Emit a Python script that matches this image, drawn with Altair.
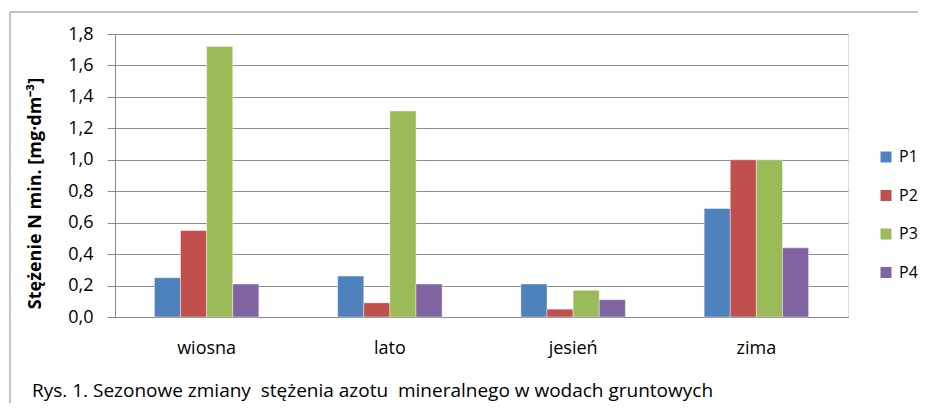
import altair as alt
import pandas as pd

seasons = ["wiosna", "lato", "jesień", "zima"]
series = ["P1", "P2", "P3", "P4"]
p1 = [0.25, 0.26, 0.21, 0.69]
p2 = [0.55, 0.09, 0.05, 1.00]
p3 = [1.72, 1.31, 0.17, 1.00]
p4 = [0.21, 0.21, 0.11, 0.44]
colors = ["#4F81BD", "#C0504D", "#9BBB59", "#8064A2"]
y_ticks = [0.0, 0.2, 0.4, 0.6, 0.8, 1.0, 1.2, 1.4, 1.6, 1.8]
caption = "Rys. 1. Sezonowe zmiany \u00a0stężenia azotu \u00a0mineralnego w wodach gruntowych"
y_title = "Stężenie N min. [mg·dm⁻³]"

rows = []
for s_name, vals in zip(series, [p1, p2, p3, p4]):
    for season, v in zip(seasons, vals):
        rows.append({"season": season, "series": s_name, "value": v})
df = pd.DataFrame(rows)

FONT = "Open Sans"
W, H = 733, 283

bars = alt.Chart(df).mark_bar(stroke="white", strokeWidth=0.6, strokeOpacity=0.7).encode(
    x=alt.X("season:N", sort=seasons, title=None,
            scale=alt.Scale(paddingInner=0.43, paddingOuter=0.215),
            axis=alt.Axis(labelAngle=0, labelFontSize=18, labelFont=FONT, labelColor="#000",
                          ticks=False, domainColor="#888888", domainWidth=1,
                          labelPadding=22, grid=False)),
    xOffset=alt.XOffset("series:N", sort=series, scale=alt.Scale(paddingInner=0, paddingOuter=0)),
    y=alt.Y("value:Q", title=y_title,
            scale=alt.Scale(domain=[0, 1.8], nice=False),
            axis=alt.Axis(values=y_ticks,
                          labelExpr="replace(format(datum.value, '.1f'), '.', ',')",
                          labelFontSize=18, labelFont=FONT, labelColor="#000",
                          tickSize=8, tickColor="#888888", domainColor="#888888",
                          labelPadding=14, gridColor="#8c8c8c", gridWidth=1,
                          titleFont=FONT, titleFontSize=18, titleFontWeight="bold",
                          titleColor="#000", titleAngle=270, titleX=-80, titleY=159,
                          titleAlign="center", titleBaseline="middle")),
    color=alt.Color("series:N", sort=series, scale=alt.Scale(domain=series, range=colors),
                    legend=alt.Legend(title=None, orient="none", legendX=763, legendY=115,
                                      symbolType="square", symbolSize=121, symbolStrokeWidth=0,
                                      labelFontSize=16, labelFont=FONT, labelColor="#000",
                                      rowPadding=22.5, labelOffset=5)),
)

left_line = alt.Chart(alt.Data(values=[{}])).mark_rule(color="#8a8a8a", strokeWidth=1).encode(
    x=alt.value(-105), y=alt.value(-22), y2=alt.value(369)
)
top_line = alt.Chart(alt.Data(values=[{}])).mark_rule(color="#8a8a8a", strokeWidth=1).encode(
    x=alt.value(-105), x2=alt.value(803), y=alt.value(-22)
)

cap = alt.Chart(alt.Data(values=[{"t": caption}])).mark_text(
    align="left", baseline="middle", font=FONT, fontSize=19, color="#000"
).encode(x=alt.value(-83), y=alt.value(357), text="t:N")

chart = alt.layer(left_line, top_line, bars, cap).properties(
    width=W, height=H,
    autosize=alt.AutoSizeParams(type="none"),
    padding={"left": 107, "top": 26, "right": 70, "bottom": 95},
).configure_view(stroke=None).configure(background="white")

chart.save("out.html", embed_options={"renderer": "svg", "actions": False})
